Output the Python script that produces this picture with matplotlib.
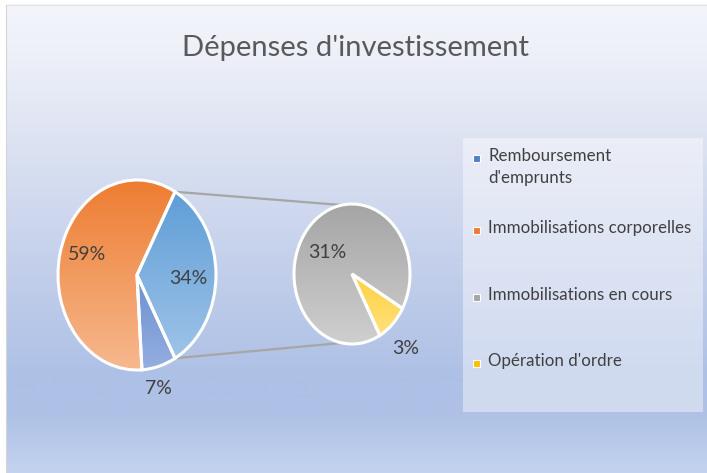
import numpy as np
import matplotlib
matplotlib.use("Agg")
import matplotlib.pyplot as plt
from matplotlib import font_manager
from matplotlib.colors import LinearSegmentedColormap

# ---------------- data ----------------
title = "Dépenses d'investissement"
main_labels = ["Autres", "Remboursement d'emprunts", "Immobilisations corporelles"]
main_values = [34, 7, 59]
sec_labels = ["Opération d'ordre", "Immobilisations en cours"]
sec_values = [3, 31]
legend_labels = ["Remboursement\nd'emprunts", "Immobilisations corporelles",
                 "Immobilisations en cours", "Opération d'ordre"]
legend_colors = ["#4f81c9", "#ed7d31", "#a5a5a5", "#ffc000"]

names = {f.name for f in font_manager.fontManager.ttflist}
FAM = "Liberation Sans Narrow" if "Liberation Sans Narrow" in names else "Lato"
plt.rcParams['font.family'] = [FAM, 'DejaVu Sans']

W, H = 707, 473
fig = plt.figure(figsize=(W / 100, H / 100), dpi=100)
fig.patch.set_facecolor("white")

# background axes in pixel coordinates
bg = fig.add_axes([0, 0, 1, 1])
bg.set_xlim(0, W)
bg.set_ylim(H, 0)
bg.axis("off")
stops = [(0.0, "#f4f5fb"), (0.12, "#eceff8"), (0.27, "#dfe4f3"), (0.52, "#c7d2ec"),
         (0.80, "#adc0e5"), (0.88, "#afc1e5"), (1.0, "#c3d3ef")]
bgcmap = LinearSegmentedColormap.from_list("bg", stops)
grad = np.linspace(0, 1, 400).reshape(-1, 1)
bg.imshow(grad, cmap=bgcmap, extent=(6, W, H, 5), aspect="auto", origin="upper", zorder=0)
bg.plot([5.5, 5.5], [5, H], color="#d5d5d5", lw=0.8, zorder=1)
bg.plot([5.5, W], [5, 5], color="#e3e3e3", lw=0.8, zorder=1)

bg.text(355, 48, title, ha="center", va="center", fontsize=21, color="#595959", zorder=2)

PAD = 1.05


def pie_axes(cx, cy, rx, ry):
    l = (cx - rx * PAD) / W
    b = 1 - (cy + ry * PAD) / H
    ax = fig.add_axes([l, b, 2 * rx * PAD / W, 2 * ry * PAD / H])
    ax.patch.set_alpha(0)
    return ax


def grad_pie(ax, values, start, tops, bots):
    wedges, _ = ax.pie(values, startangle=start, counterclock=False, radius=1,
                       wedgeprops=dict(edgecolor="white", linewidth=2.2))
    for w, ct, cb in zip(wedges, tops, bots):
        cm = LinearSegmentedColormap.from_list("", [cb, ct])
        im = ax.imshow(np.linspace(0, 1, 256).reshape(-1, 1), cmap=cm,
                       extent=(-1, 1, -1, 1), origin="lower", aspect="auto", zorder=1)
        im.set_clip_path(w)
        w.set_facecolor("none")
        w.set_zorder(2)
    ax.set_aspect("auto")
    ax.set_xlim(-PAD, PAD)
    ax.set_ylim(-PAD, PAD)
    ax.axis("off")
    return wedges


# pie geometry (pixels)
mcx, mcy, mrx, mry = 137, 275, 79, 95
scx, scy, srx, sry = 352, 274, 58, 70

# connector lines
a1 = np.deg2rad(main_values[0] / 100 * 180)
a2 = np.deg2rad(100)
for s in (1, -1):
    x0 = mcx + mrx * np.cos(a1)
    y0 = mcy - s * mry * np.sin(a1)
    x1 = scx + srx * np.cos(a2)
    y1 = scy - s * sry * np.sin(a2)
    bg.plot([x0, x1], [y0, y1], color="#a6a6a6", lw=1.6, zorder=2,
            solid_capstyle="butt")

axm = pie_axes(mcx, mcy, mrx, mry)
grad_pie(axm, main_values, main_values[0] / 100 * 180,
         ["#5b9bd5", "#4472c4", "#ed7d31"],
         ["#a3c6ea", "#94aedf", "#f7b88f"])

axs = pie_axes(scx, scy, srx, sry)
grad_pie(axs, sec_values, -29.5,
         ["#ffc000", "#a5a5a5"],
         ["#ffe383", "#cfcfcf"])

# overlay axes for data labels
ov = fig.add_axes([0, 0, 1, 1])
ov.set_xlim(0, W)
ov.set_ylim(H, 0)
ov.axis("off")
ov.patch.set_alpha(0)

lab_c = "#404040"
lfs = 14
ov.text(87, 254, f"{main_values[2]}%", ha="center", va="center", fontsize=lfs, color=lab_c)
ov.text(188, 278, f"{main_values[0]}%", ha="center", va="center", fontsize=lfs, color=lab_c)
ov.text(158, 388, f"{main_values[1]}%", ha="center", va="center", fontsize=lfs, color=lab_c)
ov.text(327, 252, f"{sec_values[1]}%", ha="center", va="center", fontsize=lfs, color=lab_c)
ov.text(406, 348, f"{sec_values[0]}%", ha="center", va="center", fontsize=lfs, color=lab_c)

# legend box
lg = plt.Rectangle((463, 138), 240, 274, facecolor="white", alpha=0.42,
                   edgecolor="none", zorder=3)
bg.add_patch(lg)
ly = [158, 230, 297, 363]
for lab, col, y in zip(legend_labels, legend_colors, ly):
    bg.add_patch(plt.Rectangle((473, y - 3.5), 7, 7, facecolor=col,
                               edgecolor="white", lw=0.8, zorder=4))
    bg.text(488, y - 10, lab, ha="left", va="top", fontsize=12.2, color=lab_c,
            linespacing=1.45, zorder=5)

fig.savefig("out.png", dpi=100)
